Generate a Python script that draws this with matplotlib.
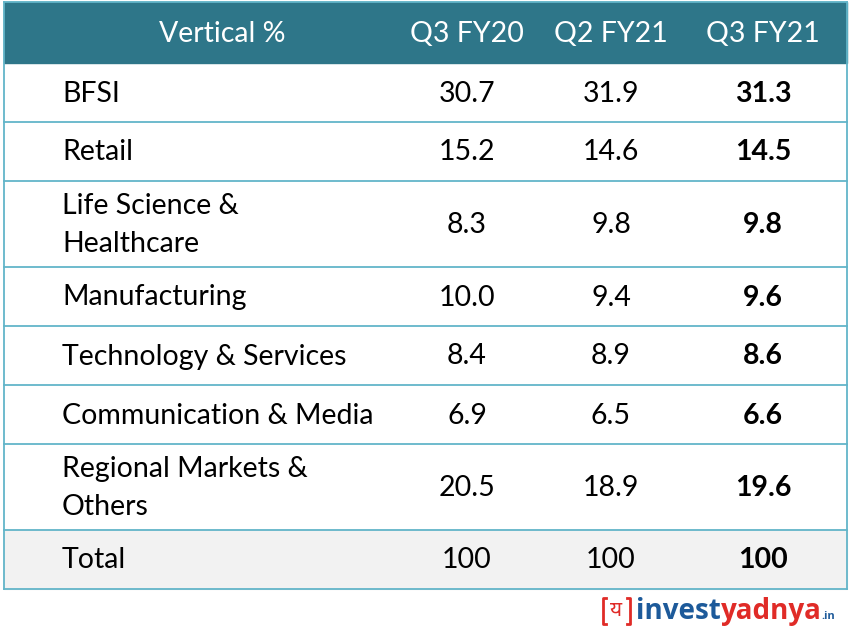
import matplotlib.pyplot as plt
from matplotlib.patches import Rectangle

# table data
header = ['Vertical %', 'Q3 FY20', 'Q2 FY21', 'Q3 FY21']
verticals = ['BFSI', 'Retail', 'Life Science &\nHealthcare', 'Manufacturing',
             'Technology & Services', 'Communication & Media',
             'Regional Markets &\nOthers', 'Total']
q3_fy20 = ['30.7', '15.2', '8.3', '10.0', '8.4', '6.9', '20.5', '100']
q2_fy21 = ['31.9', '14.6', '9.8', '9.4', '8.9', '6.5', '18.9', '100']
q3_fy21 = ['31.3', '14.5', '9.8', '9.6', '8.6', '6.6', '19.6', '100']

head_col = '#2e7689'
line_col = '#62b5c9'
font = 'Lato'
fs = 20.5

fig = plt.figure(figsize=(8.57, 6.28), dpi=100)
ax = fig.add_axes([0, 0, 1, 1])
ax.set_xlim(0, 857)
ax.set_ylim(628, 0)
ax.axis('off')

x0, x1 = 4, 847
top, head_h = 2, 61
col_x = [222, 467, 611, 763]
label_x = 62

# header
ax.add_patch(Rectangle((x0, top), x1 - x0, head_h, color=head_col, zorder=1))
for cx, h in zip(col_x, header):
    ax.text(cx, top + head_h / 2 + 1, h, ha='center', va='center', color='white',
            fontsize=fs, family=font)

y = top + head_h
for i, name in enumerate(verticals):
    h = 86 if '\n' in name else 59
    if name == 'Total':
        ax.add_patch(Rectangle((x0, y), x1 - x0, h, color='#f2f2f2', zorder=0))
    ax.text(label_x, y + h / 2 + 1, name, ha='left', va='center', fontsize=fs,
            family=font, linespacing=1.55)
    ax.text(col_x[1], y + h / 2 + 1, q3_fy20[i], ha='center', va='center',
            fontsize=fs, family=font)
    ax.text(col_x[2], y + h / 2 + 1, q2_fy21[i], ha='center', va='center',
            fontsize=fs, family=font)
    ax.text(col_x[3], y + h / 2 + 1, q3_fy21[i], ha='center', va='center',
            fontsize=fs, family=font, fontweight='bold')
    y += h
    ax.plot([x0, x1], [y, y], color=line_col, lw=1.3)

# outer borders
ax.plot([x0, x0], [top, y], color=line_col, lw=1.3)
ax.plot([x1, x1], [top, y], color=line_col, lw=1.3)
ax.plot([x0, x1], [top, top], color=line_col, lw=1.3)

# logo
red, blue = '#e02b27', '#1d5a9a'
ax.plot([606, 603, 603, 606], [598, 598, 624, 624], color=red, lw=2)
ax.plot([627, 630, 630, 627], [598, 598, 624, 624], color=red, lw=2)
ax.text(616.5, 611, 'य', ha='center', va='center', color=red, fontsize=15,
        fontweight='bold', family=['Noto Sans', 'DejaVu Sans'])
t1 = ax.text(636, 619, 'invest', ha='left', va='baseline', color=blue,
             fontsize=20, fontweight='bold', family='Open Sans')
fig.canvas.draw()
bb = t1.get_window_extent()
xe = ax.transData.inverted().transform((bb.x1, bb.y0))[0]
t2 = ax.text(xe, 619, 'yadnya', ha='left', va='baseline', color=red,
             fontsize=20, fontweight='bold', family='Open Sans')
fig.canvas.draw()
bb = t2.get_window_extent()
xe = ax.transData.inverted().transform((bb.x1, bb.y0))[0]
ax.text(xe, 619, '.in', ha='left', va='baseline', color=blue,
        fontsize=8, fontweight='bold', family='Open Sans')

fig.savefig('out.png', dpi=100)
